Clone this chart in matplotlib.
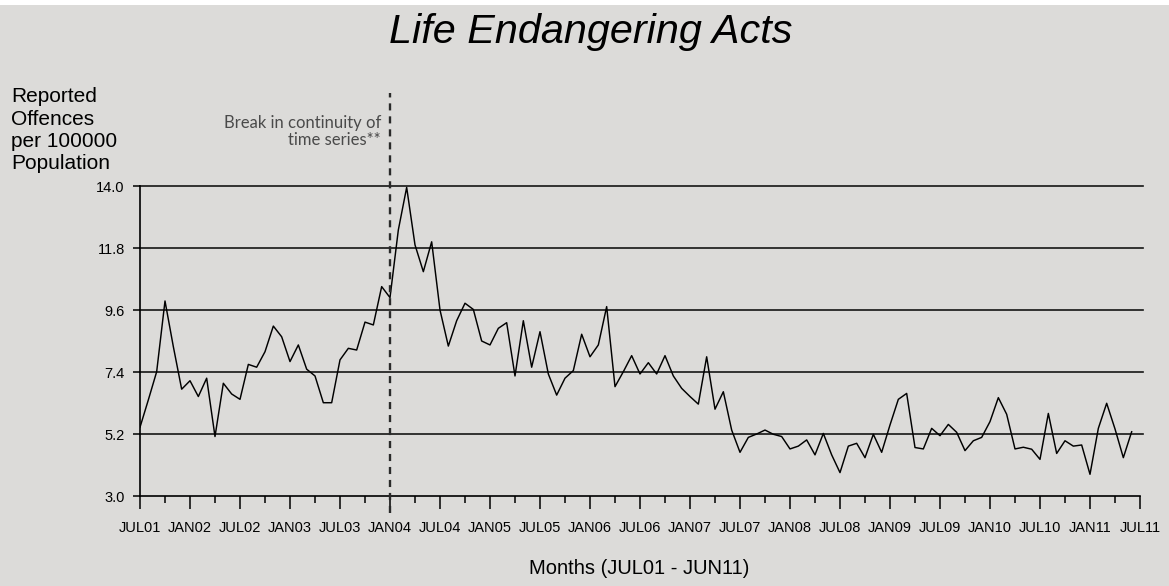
import matplotlib
matplotlib.use("Agg")
import matplotlib.pyplot as plt
from matplotlib.patches import Rectangle
from matplotlib.ticker import FixedLocator, FormatStrFormatter
import matplotlib.transforms as mtransforms

# ---------------- data ----------------
title = "Life Endangering Acts"
y_label_lines = ["Reported", "Offences", "per 100000", "Population"]
x_label = "Months (JUL01 - JUN11)"
break_note = "Break in continuity of\ntime series**"
break_month = 30  # JAN04

tick_labels = ["JUL01", "JAN02", "JUL02", "JAN03", "JUL03", "JAN04", "JUL04",
               "JAN05", "JUL05", "JAN06", "JUL06", "JAN07", "JUL07", "JAN08",
               "JUL08", "JAN09", "JUL09", "JAN10", "JUL10", "JAN11", "JUL11"]
y_ticks = [3.0, 5.2, 7.4, 9.6, 11.8, 14.0]

# monthly rates, JUL01 .. JUN11
rates_2001_2003 = [5.44, 6.41, 7.41, 9.92, 8.30, 6.79, 7.09, 6.53, 7.18, 5.11,
                   7.00, 6.62, 6.43, 7.67, 7.57, 8.12, 9.03, 8.65, 7.77, 8.36,
                   7.50, 7.26, 6.31, 6.31, 7.83, 8.24, 8.18, 9.17, 9.07, 10.43]
rates_2004_2006 = [10.04, 12.44, 13.95, 11.91, 10.96, 12.02, 9.60, 8.32, 9.22, 9.84,
                   9.62, 8.50, 8.36, 8.95, 9.15, 7.26, 9.22, 7.57, 8.83, 7.33,
                   6.58, 7.18, 7.45, 8.74, 7.94, 8.36, 9.72, 6.88, 7.41, 7.98]
rates_2006_2008 = [7.33, 7.73, 7.33, 7.98, 7.26, 6.82, 6.53, 6.26, 7.94, 6.08,
                   6.70, 5.34, 4.55, 5.08, 5.20, 5.34, 5.19, 5.11, 4.67, 4.77,
                   4.99, 4.46, 5.22, 4.46, 3.83, 4.77, 4.87, 4.36, 5.19, 4.55]
rates_2009_2011 = [5.52, 6.43, 6.64, 4.72, 4.67, 5.40, 5.14, 5.54, 5.26, 4.61,
                   4.96, 5.08, 5.64, 6.49, 5.90, 4.67, 4.73, 4.66, 4.30, 5.93,
                   4.51, 4.96, 4.77, 4.81, 3.77, 5.40, 6.29, 5.38, 4.36, 5.28]
rates = rates_2001_2003 + rates_2004_2006 + rates_2006_2008 + rates_2009_2011
months = list(range(len(rates)))

# ---------------- style ----------------
W, H = 1169, 586
BG = "#dcdbd9"
plt.rcParams['font.family'] = ['Liberation Sans', 'DejaVu Sans']

fig = plt.figure(figsize=(W / 100, H / 100), dpi=100, facecolor=BG)
fig.patches.append(Rectangle((0, 1 - 5 / H), 1, 5 / H, transform=fig.transFigure,
                             facecolor="white", edgecolor="none", zorder=0))

ax = fig.add_axes([140 / W, (H - 496) / H, 1000 / W, 310 / H])
ax.set_facecolor(BG)

ax.set_xlim(0, 120)
ax.set_ylim(3.0, 14.0)

for v in y_ticks[1:]:
    ax.axhline(v, color="#151515", lw=1.2, zorder=1, xmax=1.003, clip_on=False)

ax.plot(months, rates, color="black", lw=1.05, zorder=3)

ax.axvline(break_month, ymin=-17 / 310, ymax=1 + 93 / 310, color="#2a2a2a",
           lw=1.7, linestyle=(0, (3.0, 2.5)), clip_on=False, zorder=4)

for s in ["top", "right"]:
    ax.spines[s].set_visible(False)
for s in ["left", "bottom"]:
    ax.spines[s].set_color("black")
    ax.spines[s].set_linewidth(1.2)

ax.xaxis.set_major_locator(FixedLocator(list(range(0, 121, 6))))
ax.xaxis.set_minor_locator(FixedLocator(list(range(3, 120, 6))))
ax.set_xticklabels(tick_labels)
ax.tick_params(axis="x", which="major", length=9, width=1.1, pad=9,
               labelsize=10.5, colors="black")
ax.tick_params(axis="x", which="minor", length=5, width=1.1)

ax.yaxis.set_major_locator(FixedLocator(y_ticks))
ax.yaxis.set_major_formatter(FormatStrFormatter("%.1f"))
ax.tick_params(axis="y", length=5, width=1.1, pad=6, labelsize=10.5,
               colors="black")

# texts
fig.text(590.5 / W, 1 - 42.7 / H, title, ha="center", va="baseline",
         fontsize=29.8, style="italic")

for i, line in enumerate(y_label_lines):
    fig.text(11 / W, 1 - (102.5 + 22.2 * i) / H, line, ha="left",
             va="baseline", fontsize=15)

fig.text(639 / W, 1 - 574 / H, x_label, ha="center", va="baseline",
         fontsize=14.5)

trans = mtransforms.offset_copy(
    mtransforms.blended_transform_factory(ax.transData, fig.transFigure),
    fig=fig, x=-9, y=0, units="dots")
ax.text(break_month, 1 - 145 / H, break_note, transform=trans, ha="right",
        va="baseline", fontsize=12, color="#4a4a4a", linespacing=1.1,
        family=["Lato", "DejaVu Sans"], multialignment="right")

fig.savefig("out.png", dpi=100, facecolor=BG)
